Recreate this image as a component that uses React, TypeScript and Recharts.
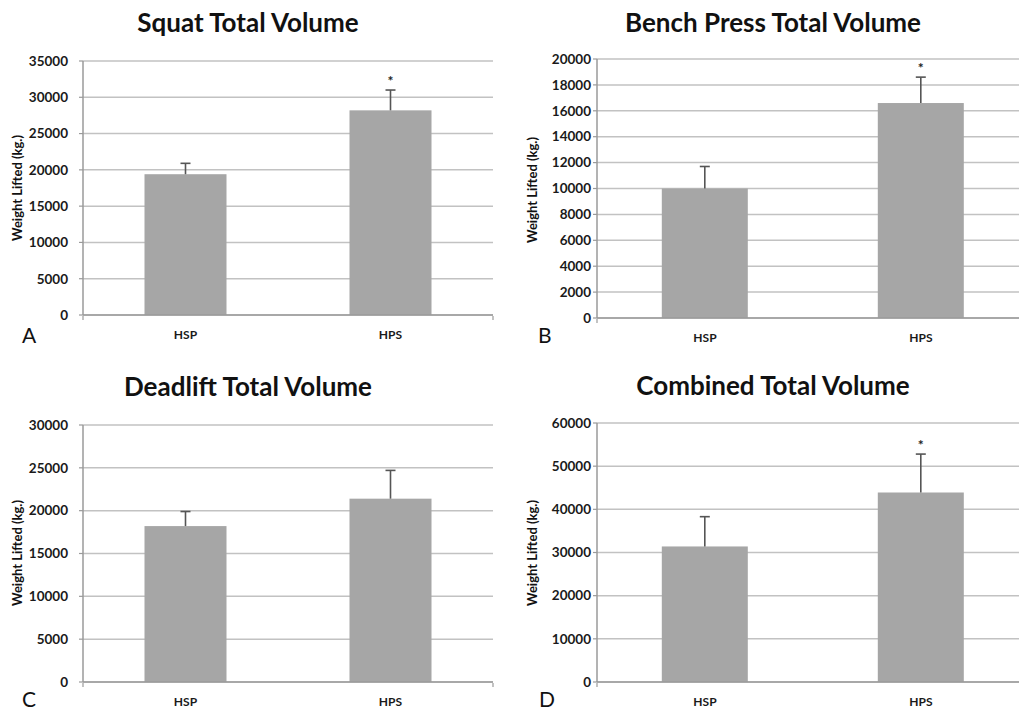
import { BarChart, Bar, XAxis, YAxis, CartesianGrid } from 'recharts'

const GROUPS = ['HSP', 'HPS']

const SQUAT_MEAN = [19400, 28200]
const SQUAT_SD = [1500, 2800]
const SQUAT_SIG = [false, true]
const SQUAT_TICKS = [0, 5000, 10000, 15000, 20000, 25000, 30000, 35000]

const BENCH_MEAN = [10000, 16600]
const BENCH_SD = [1700, 2000]
const BENCH_SIG = [false, true]
const BENCH_TICKS = [0, 2000, 4000, 6000, 8000, 10000, 12000, 14000, 16000, 18000, 20000]

const DEAD_MEAN = [18200, 21400]
const DEAD_SD = [1700, 3300]
const DEAD_SIG = [false, false]
const DEAD_TICKS = [0, 5000, 10000, 15000, 20000, 25000, 30000]

const COMB_MEAN = [31400, 43900]
const COMB_SD = [6900, 8900]
const COMB_SIG = [false, true]
const COMB_TICKS = [0, 10000, 20000, 30000, 40000, 50000, 60000]

const EDGE_TICKS = [0, 1, 2]

const FONT = 'Lato, "Open Sans", "DejaVu Sans", sans-serif'
const GRID = '#c2c2c2'
const AXIS = '#9a9a9a'
const BAR = '#a6a6a6'
const ERR = '#555555'

function rows(mean: number[], sd: number[], sig: boolean[]) {
  return GROUPS.map((name, i) => ({ name, mean: mean[i], sd: sd[i], sig: sig[i] }))
}

// bar plus upper-only error whisker, scaled from the bar's own pixel height
function BarWithError(props: any) {
  const { x, y, width, height, payload } = props
  const unit = height / payload.mean
  const cx = x + width / 2
  const errY = y - payload.sd * unit
  return (
    <g>
      <rect x={x} y={y} width={width} height={height} fill={BAR} />
      <line x1={cx} x2={cx} y1={y} y2={errY} stroke={ERR} strokeWidth={1.6} />
      <line x1={cx - 5} x2={cx + 5} y1={errY} y2={errY} stroke={ERR} strokeWidth={1.6} />
      {payload.sig && (
        <text x={cx} y={errY - 4} textAnchor="middle" fontSize={14} fontWeight="bold" fill="#222" fontFamily={FONT}>
          *
        </text>
      )}
    </g>
  )
}

interface PanelProps {
  data: { name: string; mean: number; sd: number; sig: boolean }[]
  ticks: number[]
  left: number
  top: number
  width: number
  height: number
  marginTop: number
  marginRight: number
  axisWidth: number
  tickMargin: number
}

function Panel({ data, ticks, left, top, width, height, marginTop, marginRight, axisWidth, tickMargin }: PanelProps) {
  return (
    <div style={{ position: 'absolute', left, top }}>
      <BarChart
        width={width}
        height={height}
        data={data}
        margin={{ top: marginTop, right: marginRight, left: 0, bottom: 0 }}
        barCategoryGap="30%"
      >
        <CartesianGrid vertical={false} stroke={GRID} strokeWidth={1.5} />
        <XAxis
          dataKey="name"
          height={1}
          tickLine={false}
          axisLine={{ stroke: AXIS, strokeWidth: 1.5 }}
          tickMargin={9}
          tick={{ fontSize: 12, fontWeight: 'bold', fill: '#1a1a1a', fontFamily: FONT }}
        />
        {/* tick marks on the category boundaries */}
        <XAxis
          xAxisId="edges"
          type="number"
          domain={[0, 2]}
          ticks={EDGE_TICKS}
          allowDataOverflow
          height={34}
          axisLine={false}
          tickLine={{ stroke: AXIS, strokeWidth: 1.2 }}
          tickSize={4}
          tick={{ fontSize: 1, fill: 'none' }}
          tickFormatter={() => ''}
        />
        <YAxis
          width={axisWidth}
          domain={[0, ticks[ticks.length - 1]]}
          ticks={ticks}
          interval={0}
          tickSize={4}
          tickMargin={tickMargin}
          axisLine={{ stroke: AXIS, strokeWidth: 1.5 }}
          tickLine={{ stroke: AXIS, strokeWidth: 1.2 }}
          tick={{ fontSize: 13.5, fontWeight: 'bold', fill: '#1a1a1a', fontFamily: FONT }}
        />
        <Bar dataKey="mean" shape={BarWithError} isAnimationActive={false} />
      </BarChart>
    </div>
  )
}

const TITLES = [
  { text: 'Squat Total Volume', x: 248, y: 32 },
  { text: 'Bench Press Total Volume', x: 773, y: 32 },
  { text: 'Deadlift Total Volume', x: 248, y: 396 },
  { text: 'Combined Total Volume', x: 773, y: 395 },
]

const LETTERS = [
  { text: 'A', x: 22, y: 343 },
  { text: 'B', x: 538, y: 343 },
  { text: 'C', x: 22, y: 707 },
  { text: 'D', x: 539, y: 707 },
]

const YLABELS = [
  { x: 22, y: 188 },
  { x: 537, y: 190 },
  { x: 22, y: 553 },
  { x: 537, y: 553 },
]

export default function App() {
  return (
    <div
      style={{
        position: 'absolute',
        left: 0,
        top: 0,
        width: 1019,
        height: 711,
        overflow: 'hidden',
        background: '#fff',
        fontFamily: FONT,
      }}
    >
      <Panel data={rows(SQUAT_MEAN, SQUAT_SD, SQUAT_SIG)} ticks={SQUAT_TICKS}
        left={0} top={0} width={500} height={350} marginTop={61} marginRight={7} axisWidth={83} tickMargin={11} />
      <Panel data={rows(BENCH_MEAN, BENCH_SD, BENCH_SIG)} ticks={BENCH_TICKS}
        left={500} top={0} width={540} height={353} marginTop={59} marginRight={11} axisWidth={97} tickMargin={2} />
      <Panel data={rows(DEAD_MEAN, DEAD_SD, DEAD_SIG)} ticks={DEAD_TICKS}
        left={0} top={360} width={500} height={357} marginTop={65} marginRight={7} axisWidth={83} tickMargin={11} />
      <Panel data={rows(COMB_MEAN, COMB_SD, COMB_SIG)} ticks={COMB_TICKS}
        left={500} top={360} width={540} height={357} marginTop={63} marginRight={11} axisWidth={97} tickMargin={2} />
      <svg width={1019} height={711} style={{ position: 'absolute', left: 0, top: 0, pointerEvents: 'none' }}>
        {TITLES.map(t => (
          <text key={t.text} x={t.x} y={t.y} textAnchor="middle" fontSize={26} fontWeight="bold" fill="#111" fontFamily={FONT}>
            {t.text}
          </text>
        ))}
        {LETTERS.map(l => (
          <text key={l.text} x={l.x} y={l.y} fontSize={21} fill="#111" fontFamily={FONT}>
            {l.text}
          </text>
        ))}
        {YLABELS.map((p, i) => (
          <text key={i} x={p.x} y={p.y} textAnchor="middle" fontSize={13} fontWeight="bold" fill="#111"
            fontFamily={FONT} transform={`rotate(-90 ${p.x} ${p.y})`}>
            Weight Lifted (kg.)
          </text>
        ))}
      </svg>
    </div>
  )
}
